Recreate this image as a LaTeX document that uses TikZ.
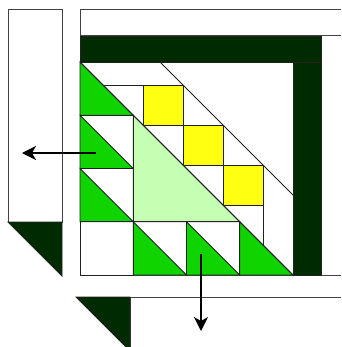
\documentclass[tikz,border=0pt]{standalone}
\usetikzlibrary{arrows.meta}
\definecolor{qgreen}{HTML}{10D400}
\definecolor{qlight}{HTML}{C4FFB4}
\definecolor{qyellow}{HTML}{FFFF12}
\definecolor{qdark}{HTML}{002A00}
\definecolor{qline}{HTML}{222222}
\tikzset{
  edge/.style={draw=qline,line width=0.8pt,line join=miter},
  frame/.style={draw=qline!85,line width=1pt},
  darkpiece/.style={edge,fill=qdark},
  greenpiece/.style={edge,fill=qgreen},
  lightpiece/.style={edge,fill=qlight},
  yellowpiece/.style={edge,fill=qyellow},
  moveto/.style={-{Stealth[length=14pt,width=14pt,inset=4pt]},line width=1.3pt,black}
}
\begin{document}
\begin{tikzpicture}[x=1pt,y=-1pt]
\useasboundingbox (0,0) rectangle (341,347);
\begin{scope}
\clip (0,0) rectangle (341,347);
% left border strip
\draw[frame,fill=white] (8,9.5) rectangle (62,222);
\draw[darkpiece] (8,222) -- (62,222) -- (62,276) -- cycle;
% lower border strip
\draw[frame] (341,297) -- (130,297) -- (130,350);
\draw[darkpiece] (76,297) -- (130,297) -- (130,351) -- cycle;
% main block frame
\draw[frame] (341,10) -- (80,10) -- (80,275) -- (341,275);
\draw[frame] (80,36) -- (341,36);
% dark L band
\draw[darkpiece] (80,36) rectangle (321,62);
\draw[darkpiece] (293,62) rectangle (321,275);
\end{scope}
% green triangles, left column
\draw[greenpiece] (80,62) -- (80,115.25) -- (133.25,115.25) -- cycle;
\draw[greenpiece] (80,115.25) -- (80,168.5) -- (133.25,168.5) -- cycle;
\draw[greenpiece] (80,168.5) -- (80,221.75) -- (133.25,221.75) -- cycle;
% green triangles, bottom row
\draw[greenpiece] (133.25,221.75) -- (133.25,275) -- (186.5,275) -- cycle;
\draw[greenpiece] (186.5,221.75) -- (186.5,275) -- (239.75,275) -- cycle;
\draw[greenpiece] (239.75,221.75) -- (239.75,275) -- (293,275) -- cycle;
% light green big triangle
\draw[lightpiece] (133.25,115.25) -- (133.25,221.75) -- (239.75,221.75) -- cycle;
% cell outlines
\draw[edge] (80,115.25) -- (133.25,115.25) -- (133.25,275);
\draw[edge] (80,221.75) -- (239.75,221.75);
\draw[edge] (186.5,221.75) -- (186.5,275);
\draw[edge] (239.75,221.75) -- (239.75,275);
\draw[edge] (80,221.75) rectangle (133.25,275);
% diagonal strip
\draw[edge] (80,62) -- (293,275);
\draw[edge] (160,62) -- (293,195);
\draw[yellowpiece] (143,85) rectangle (183,125);
\draw[yellowpiece] (183,125) rectangle (223,165);
\draw[yellowpiece] (223,165) rectangle (263,205);
\draw[edge] (103,85) -- (183,85);
\draw[edge] (143,125) -- (223,125);
\draw[edge] (183,165) -- (263,165);
\draw[edge] (223,205) -- (263,205);
\draw[edge] (183,85) -- (183,165);
\draw[edge] (223,125) -- (223,205);
\draw[edge] (263,165) -- (263,245);
% arrows
\coordinate (leftfrom) at (96,153);
\coordinate (leftto) at (22,153);
\coordinate (downfrom) at (201,254);
\coordinate (downto) at (201,331);
\draw[moveto] (leftfrom) -- (leftto);
\draw[moveto] (downfrom) -- (downto);
\end{tikzpicture}
\end{document}
